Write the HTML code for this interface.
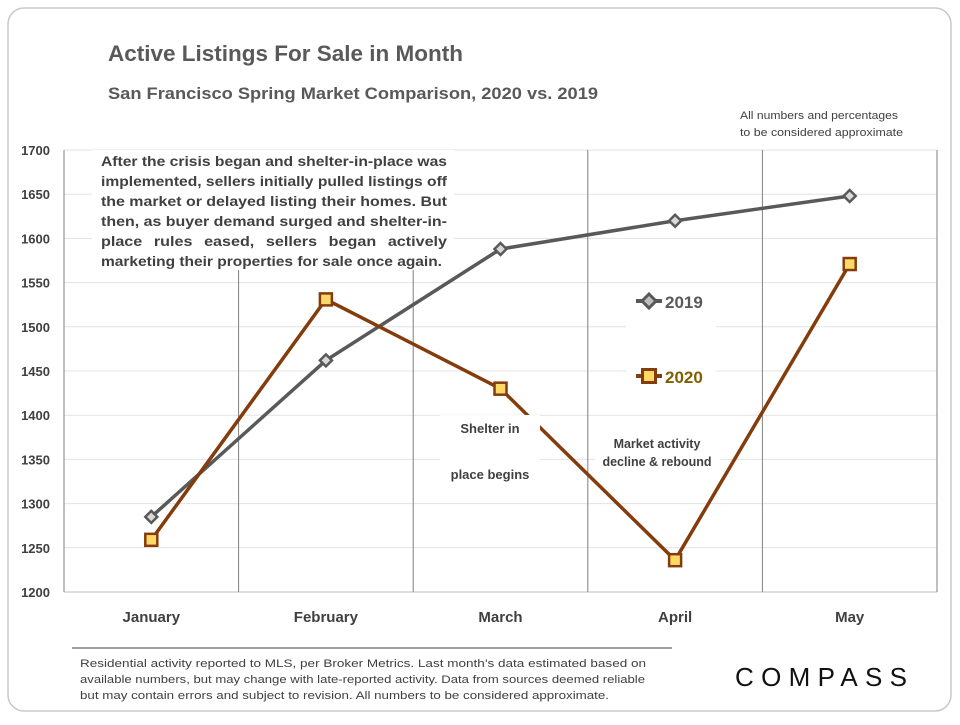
<!DOCTYPE html>
<html><head><meta charset="utf-8"><style>
body{margin:0;width:960px;height:720px;background:#fff;font-family:"Liberation Sans",sans-serif;overflow:hidden}
svg text{font-family:"Liberation Sans",sans-serif}
</style></head><body>
<svg id="c" width="960" height="720">
<rect x="8" y="8" width="943" height="703" rx="16" fill="#fff" stroke="#c8c8c8" stroke-width="1.5"/>
<text x="108" y="61" font-size="22" font-weight="bold" fill="#595959" textLength="355" lengthAdjust="spacingAndGlyphs">Active Listings For Sale in Month</text>
<text x="108" y="99" font-size="17" font-weight="bold" fill="#595959" textLength="490" lengthAdjust="spacingAndGlyphs">San Francisco Spring Market Comparison,  2020 vs. 2019</text>
<text x="740" y="119" font-size="11" fill="#404040" textLength="158" lengthAdjust="spacingAndGlyphs">All numbers and percentages</text>
<text x="740" y="136" font-size="11" fill="#404040" textLength="163" lengthAdjust="spacingAndGlyphs">to be considered approximate</text>
<g id="grid"></g>
<g id="marks"></g>
<g>
<rect x="92" y="150" width="362" height="120" fill="#fff"/>
<g font-size="13.5" font-weight="bold" fill="#404040">
<text x="101" y="166" textLength="346" lengthAdjust="spacingAndGlyphs">After the crisis began and shelter-in-place was</text>
<text x="101" y="186" textLength="346" lengthAdjust="spacingAndGlyphs">implemented, sellers initially pulled listings off</text>
<text x="101" y="206" textLength="346" lengthAdjust="spacingAndGlyphs">the market or delayed listing their homes. But</text>
<text x="101" y="226" textLength="346" lengthAdjust="spacingAndGlyphs">then, as buyer demand surged and shelter-in-</text>
<text x="101" y="246" textLength="346" lengthAdjust="spacingAndGlyphs" word-spacing="6">place rules eased, sellers began actively</text>
<text x="101" y="266" textLength="341" lengthAdjust="spacingAndGlyphs">marketing their properties for sale once again.</text>
</g></g>
<g><rect x="440" y="415" width="100" height="70" fill="#fff"/>
<text font-size="13" font-weight="bold" fill="#404040" text-anchor="middle"><tspan x="490" y="433">Shelter in</tspan><tspan x="490" y="479">place  begins</tspan></text></g>
<g><rect x="595" y="432" width="125" height="38" fill="#fff"/>
<text font-size="12.5" font-weight="bold" fill="#404040" text-anchor="middle"><tspan x="657" y="448">Market activity</tspan><tspan x="657" y="466">decline &amp; rebound</tspan></text></g>
<g>
<rect x="626" y="285" width="90" height="110" fill="#fff"/>
<g><line x1="636" y1="301" x2="662" y2="301" stroke="#595959" stroke-width="4"/><path d="M649 294 L656 301 L649 308 L642 301Z" fill="#bfbfbf" stroke="#595959" stroke-width="3"/><text x="665" y="308" font-size="17" font-weight="bold" fill="#595959">2019</text></g>
<g><line x1="636" y1="376" x2="662" y2="376" stroke="#843c0c" stroke-width="4"/><rect x="642.5" y="369.5" width="13" height="13" fill="#ffd966" stroke="#843c0c" stroke-width="3"/><text x="665" y="383" font-size="17" font-weight="bold" fill="#7f6000">2020</text></g>
</g>
<line x1="72" y1="648" x2="672" y2="648" stroke="#404040"/>
<g font-size="11" fill="#404040">
<text x="80" y="667" textLength="566" lengthAdjust="spacingAndGlyphs">Residential activity reported to MLS, per Broker Metrics. Last month’s data estimated based on</text>
<text x="80" y="683" textLength="565" lengthAdjust="spacingAndGlyphs">available numbers, but may change with late-reported activity. Data from sources deemed reliable</text>
<text x="80" y="699" textLength="529" lengthAdjust="spacingAndGlyphs">but may contain errors and subject to revision. All numbers to be considered approximate.</text></g>
<text x="735" y="686" font-size="26" fill="#111" textLength="172" lengthAdjust="spacing">COMPASS</text>
</svg>
<script>
const categories=["January","February","March","April","May"];
const s2019=[1285,1462,1588,1620,1648];
const s2020=[1259,1531,1430,1236,1571];
const yTicks=[1200,1250,1300,1350,1400,1450,1500,1550,1600,1650,1700];
const NS="http://www.w3.org/2000/svg";
const L=64,R=937,T=150,B=592,ymin=1200,ymax=1700;
const bw=(R-L)/categories.length;
const x=i=>L+bw*(i+0.5);
const y=v=>B-(v-ymin)/(ymax-ymin)*(B-T);
function mk(tag,a,p){const e=document.createElementNS(NS,tag);for(const k in a)e.setAttribute(k,a[k]);p.appendChild(e);return e;}
const g=document.getElementById('grid'),m=document.getElementById('marks');
yTicks.forEach(v=>{
 const l=mk('line',{x1:L,x2:R,y1:y(v),y2:y(v),stroke:v===ymin?'#bfbfbf':'#e3e3e3'},g);
 
 
 const t=mk('text',{x:50,y:y(v)+5,'font-size':13,'font-weight':'bold',fill:'#404040','text-anchor':'end'},g);t.textContent=v;
 
 
});
mk('line',{x1:L,x2:L,y1:T,y2:B,stroke:'#7f7f7f'},g);
for(let i=1;i<categories.length;i++){
 const l=mk('line',{x1:L+bw*i,x2:L+bw*i,y1:T,y2:B,stroke:'#7f7f7f'},g);
 
 
}
mk('line',{x1:R,x2:R,y1:T,y2:B,stroke:'#7f7f7f'},g);
categories.forEach((c,i)=>{
 const t=mk('text',{x:x(i),y:622,'font-size':15,'font-weight':'bold',fill:'#404040','text-anchor':'middle'},g);t.textContent=c;
 
 
});
function series(d,col,name,sq){
 const p=mk('polyline',{points:d.map((v,i)=>x(i)+','+y(v)).join(' '),fill:'none',stroke:col,'stroke-width':3.5},m);
 
 
 d.forEach((v,i)=>{
  let e;
  if(sq)e=mk('rect',{x:x(i)-6,y:y(v)-6,width:12,height:12,fill:'#ffd966',stroke:col,'stroke-width':2.5},m);
  else e=mk('path',{d:`M${x(i)} ${y(v)-6}L${x(i)+6} ${y(v)}L${x(i)} ${y(v)+6}L${x(i)-6} ${y(v)}Z`,fill:'#d9d9d9',stroke:col,'stroke-width':2.5},m);
  
  
 });
}
series(s2019,'#595959','series-2019',false);
series(s2020,'#843c0c','series-2020',true);
</script>
</body></html>
